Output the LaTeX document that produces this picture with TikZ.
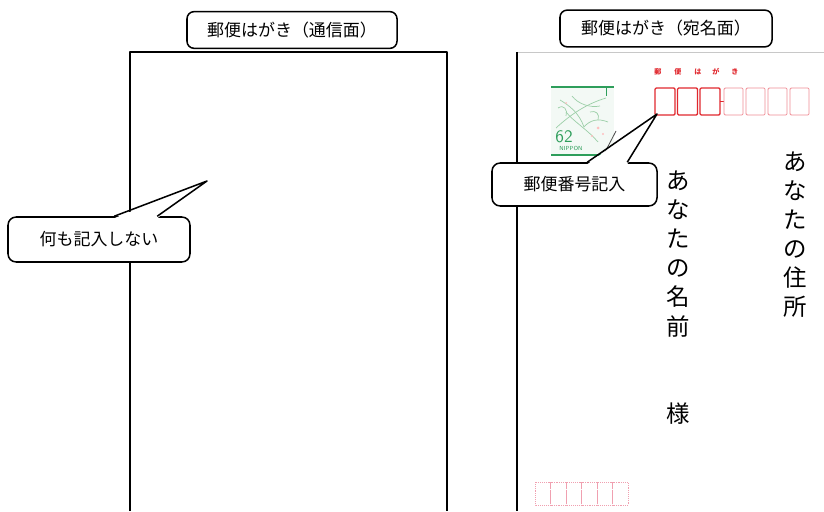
\documentclass[tikz,border=0pt]{standalone}
\usepackage{fontspec}
\newfontfamily\jp{Noto Sans CJK JP}
\usepackage{tikz}
\usetikzlibrary{calc}
\usepackage{xcolor}
\definecolor{zipred}{HTML}{E0282E}
\definecolor{ziplite}{HTML}{EE8A92}
\definecolor{stampgreen}{HTML}{2E9E5B}
\definecolor{lilygreen}{HTML}{9CCFA8}
\definecolor{cardgray}{HTML}{C8C8C8}
\definecolor{bottompink}{HTML}{F0A0B0}

\begin{document}
\begin{tikzpicture}[x=0.03cm,y=-0.03cm,line join=round,
                    title node/.style={draw,line width=1.3pt,rounded corners=6pt,fill=white,
                      minimum width=6.3cm,minimum height=1.1cm,font=\jp\fontsize{14.5}{16}\selectfont},
                    note node/.style={draw,line width=1.3pt,rounded corners=7pt,fill=white,
                      minimum height=1.33cm,font=\jp\fontsize{14.5}{16}\selectfont},
                    note line/.style={line width=1.3pt},
                    vchar/.style={inner sep=0pt,font=\jp\fontsize{20}{20}\selectfont},
                    zip bold/.style={draw=zipred,line width=1.1pt,rounded corners=1pt},
                    zip light/.style={draw=ziplite,line width=0.7pt,rounded corners=1pt},
                    lily/.style={lilygreen,line width=0.6pt}]
  \useasboundingbox (0,0) rectangle (824,511);

  % Cards
  \draw[line width=1.3pt] (130,511) -- (130,52) -- (447,52) -- (447,511);
  \draw[cardgray,line width=0.6pt] (517,52) -- (824,52);
  \draw[line width=1.3pt] (517,52) -- (517,511);

  % Stamp
  \fill[lilygreen!12] (551,88) rectangle (614,154);
  \draw[stampgreen,line width=2pt] (551,87) -- (614,87);
  \draw[stampgreen,line width=0.8pt] (606,87) -- (606,96);
  \draw[stampgreen,line width=2pt] (551,155) -- (614,155);
  \draw[lily] (556,128) .. controls (570,115) and (586,104) .. (606,98);
  \draw[lily] (560,100) .. controls (570,106) and (579,113) .. (584,127);
  \draw[lily] (572,96) .. controls (578,104) and (590,108) .. (600,106);
  \draw[lily] (584,127) .. controls (590,120) and (598,118) .. (608,122);
  \draw[lily] (566,112) .. controls (574,122) and (588,130) .. (598,142);
  \draw[lily] (558,108) .. controls (564,104) and (568,110) .. (566,116);
  \draw[lily] (590,112) .. controls (596,110) and (600,114) .. (598,120);
  \fill[pink] (598,128) circle (1.5) (603,134) circle (1.2) (592,136) circle (1.2) (566,103) circle (1);
  \draw[black!70,line width=0.7pt] (603,156) -- (616,131);
  \node[text=stampgreen,font=\sffamily\fontsize{15}{15}\selectfont] (value) at (564,137) {62};
  \node[text=stampgreen,font=\sffamily\fontsize{5}{5}\selectfont] (nippon) at (571,148) {NIPPON};

  % Postal code
  \foreach \c/\x in {郵/658,便/678,は/698,が/716,き/735}
    \node[text=zipred,inner sep=0pt,font=\jp\bfseries\fontsize{6}{6}\selectfont] (head\x) at (\x,72) {\c};
  \foreach \x in {655,677.5,700}
    \draw[zip bold] (\x,88) rectangle ++(20,27);
  \draw[zipred,line width=0.6pt] (720,101.5) -- (724,101.5);
  \foreach \x in {724,746,768,790}
    \draw[zip light] (\x,88) rectangle ++(19,27);
  \foreach \x in {535,550.5,566,581.5,597,612.5}
    \draw[bottompink,densely dotted,line width=0.6pt] (\x,482) rectangle ++(15.5,23);

  % Addresses
  \foreach \c [count=\i from 0] in {あ,な,た,の,住,所}
    \node[vchar] (addr\i) at (795,{162+29*\i}) {\c};
  \foreach \c [count=\i from 0] in {あ,な,た,の,名,前}
    \node[vchar] (name\i) at (678,{181+29*\i}) {\c};
  \node[vchar] (sama) at (678,414) {様};

  % Titles
  \node[title node] (front) at (292,30) {郵便はがき（通信面）};
  \node[title node,minimum width=6.36cm] (back) at (666,28.5) {郵便はがき（宛名面）};

  % Notes
  \node[note node,minimum width=5.46cm,minimum height=1.35cm] (blank) at (99,239.5) {何も記入しない};
  \node[note node,minimum width=4.95cm,minimum height=1.29cm] (zipnote) at (574.5,184.5) {郵便番号記入};
  \coordinate (blanktip) at (207,181);
  \coordinate (ziptip) at (657,114);

  % Pointers
  \fill[white] ($(blank.north west)+(107,2)$) -- (blanktip) -- ($(blank.north west)+(150,2)$) -- cycle;
  \draw[note line] ($(blank.north west)+(107,0)$) -- (blanktip) -- ($(blank.north west)+(150,0)$);
  \fill[white] ($(zipnote.north west)+(96,2)$) -- (ziptip) -- ($(zipnote.north west)+(136,2)$) -- cycle;
  \draw[note line] ($(zipnote.north west)+(96,0)$) -- (ziptip) -- ($(zipnote.north west)+(136,0)$);
\end{tikzpicture}
\end{document}
